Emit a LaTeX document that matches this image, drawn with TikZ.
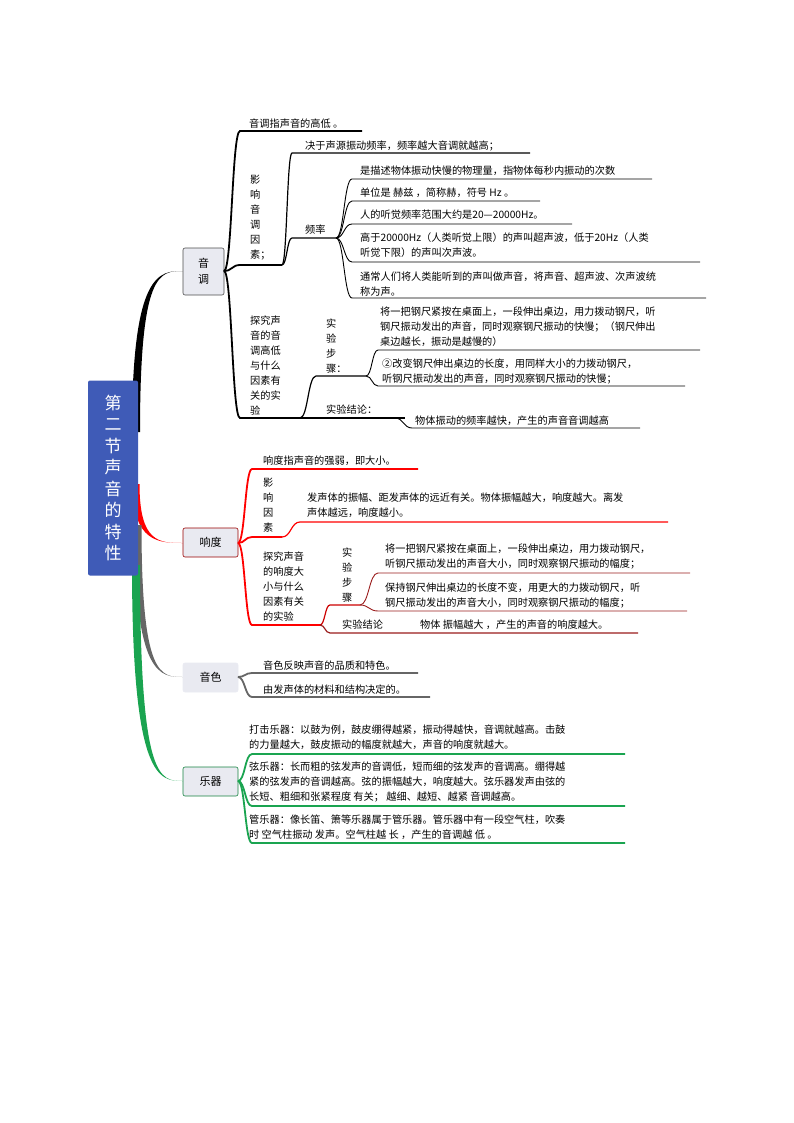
\documentclass[tikz,border=0pt]{standalone}
\usepackage{fontspec}
\setmainfont{Noto Sans CJK SC}
\begin{document}
\begin{tikzpicture}[x=1pt,y=-1pt,
  t/.style={inner sep=0pt,anchor=west,align=left,font=\fontsize{10.2}{15}\selectfont},
  vt/.style={inner sep=0pt,anchor=west,align=left,font=\fontsize{10.2}{15}\selectfont},
  sub/.style={draw=#1,fill=subfill,rounded corners=2pt,line width=0.6pt,font=\fontsize{11}{16}\selectfont,align=center,inner sep=0pt}]
\definecolor{subfill}{HTML}{E9EAF1}
\definecolor{rootblue}{HTML}{3F5BB7}
\definecolor{gr}{HTML}{1AA450}
\definecolor{dred}{HTML}{9A1C1C}
\useasboundingbox (0,0) rectangle (794,1123);
\newcommand\br[7]{\draw[#1,line width=#2] (#3,#4) .. controls ({#3+0.5*(#5-#3)},#4) and ({#3+0.5*(#5-#3)},#6) .. (#5,#6) -- (#7,#6);}
\newcommand\taper[6]{\fill[#1] ({#2-#6},#3) .. controls ({#2-#6},#5) and ({#2+0.5*(#4-#2)},#5) .. (#4,#5) .. controls ({#2+0.5*(#4-#2)},#5) and ({#2+#6},#5) .. ({#2+#6},#3) -- cycle;}
% main branches
\taper{black}{136}{432}{183}{271}{4}
\taper{red}{136}{484}{183}{543}{3.5}
\taper{black!60}{138}{525}{183}{677}{3.5}
\taper{gr}{136}{565}{183}{781}{4}
% root
\node[fill=rootblue,rounded corners=2pt,minimum width=50pt,minimum height=195pt,text=white,align=center,font=\fontsize{17}{21.5}\selectfont,inner sep=0pt] (root) at (113,478) {第\\二\\节\\声\\音\\的\\特\\性};
\node[sub=black!70,minimum width=41pt,minimum height=47pt] (yd) at (203.5,271.5) {音\\调};
\node[sub=red!60!black,minimum width=55pt,minimum height=29pt] (xd) at (210.5,542.5) {响度};
\node[sub=subfill,minimum width=55pt,minimum height=29pt] (ys) at (210.5,677.5) {音色};
\node[sub=gr!80!black,minimum width=55pt,minimum height=29pt] (yq) at (210.5,781.5) {乐器};
% 音调 tree
\br{black}{1.8pt}{224}{271}{240}{131}{362}
\br{black}{1.8pt}{224}{271}{240}{265}{282}
\br{black}{1.8pt}{224}{271}{240}{418}{300}
\node[t] (a1) at (249,124) {音调指声音的高低 。};
\node[vt] (a2) at (250,218) {影\\响\\音\\调\\因\\素；};
\br{black}{1.2pt}{282}{265}{292}{153}{530}
\br{black}{1.2pt}{282}{265}{292}{238}{336}
\node[t] (a3) at (305,146) {决于声源振动频率，频率越大音调就越高；};
\node[t] (a4) at (305,230) {频率};
\br{black}{0.9pt}{336}{238}{352}{179}{652}
\br{black}{0.9pt}{336}{238}{352}{201}{540}
\br{black}{0.9pt}{336}{238}{352}{224}{572}
\br{black}{0.9pt}{336}{238}{352}{262}{700}
\br{black}{0.9pt}{336}{238}{352}{298}{706}
\node[t] (f1) at (360,171) {是描述物体振动快慢的物理量，指物体每秒内振动的次数};
\node[t] (f2) at (360,193) {单位是 赫兹 ，简称赫，符号 Hz 。};
\node[t] (f3) at (360,215) {人的听觉频率范围大约是20—20000Hz。};
\node[t] (f4) at (360,245.5) {高于20000Hz（人类听觉上限）的声叫超声波，低于20Hz（人类\\听觉下限）的声叫次声波。};
\node[t] (f5) at (360,284) {通常人们将人类能听到的声叫做声音，将声音、超声波、次声波统\\称为声。};
\node[vt] (a5) at (250,366) {探究声\\音的音\\调高低\\与什么\\因素有\\关的实\\验};
\br{black}{1.2pt}{300}{418}{316}{376}{366}
\br{black}{1.2pt}{300}{418}{316}{418}{405}
\node[vt] (a6) at (326,346) {实\\验\\步\\骤：};
\br{black}{0.9pt}{366}{376}{378}{350}{700}
\br{black}{0.9pt}{366}{376}{378}{386}{685}
\node[t] (s1) at (380,327) {将一把钢尺紧按在桌面上，一段伸出桌边，用力拨动钢尺，听\\钢尺振动发出的声音，同时观察钢尺振动的快慢；（钢尺伸出\\桌边越长，振动是越慢的）};
\node[t] (s2) at (382,371) {②改变钢尺伸出桌边的长度，用同样大小的力拨动钢尺，\\听钢尺振动发出的声音，同时观察钢尺振动的快慢；};
\node[t] (a7) at (326,410) {实验结论：};
\br{black}{0.9pt}{395}{418}{412}{428}{640}
\node[t] (c1) at (415,421) {物体振动的频率越快，产生的声音音调越高};
% 响度 tree
\br{red}{1.8pt}{238}{543}{252}{469}{418}
\br{red}{1.8pt}{238}{543}{252}{537}{282}
\br{red}{1.8pt}{238}{543}{252}{625}{320}
\node[t] (b1) at (263,461) {响度指声音的强弱，即大小。};
\node[vt] (b2) at (263,505) {影\\响\\因\\素};
\br{red}{1.2pt}{282}{537}{300}{522}{668}
\node[t] (b3) at (307,505.5) {发声体的振幅、距发声体的远近有关。物体振幅越大，响度越大。离发\\声体越远，响度越小。};
\node[vt] (b4) at (263,587) {探究声音\\的响度大\\小与什么\\因素有关\\的实验};
\br{red!80!black}{1.2pt}{320}{625}{330}{605}{360}
\br{dred}{1.2pt}{320}{625}{330}{633}{638}
\node[vt] (b5) at (342,575.5) {实\\验\\步\\骤};
\br{dred}{0.9pt}{360}{605}{378}{573}{690}
\br{dred}{0.9pt}{360}{605}{378}{611}{687}
\node[t] (b6) at (385,556.5) {将一把钢尺紧按在桌面上，一段伸出桌边，用力拨动钢尺，\\听钢尺振动发出的声音大小，同时观察钢尺振动的幅度；};
\node[t] (b7) at (385,595.5) {保持钢尺伸出桌边的长度不变，用更大的力拨动钢尺，听\\钢尺振动发出的声音大小，同时观察钢尺振动的幅度；};
\node[t] (b8) at (342,625) {实验结论};
\node[t] (b9) at (420,625) {物体 振幅越大 ，产生的声音的响度越大。};
% 音色
\br{black!60}{1.8pt}{238}{677}{252}{673}{418}
\br{black!60}{1.8pt}{238}{677}{252}{697}{430}
\node[t] (d1) at (263,666) {音色反映声音的品质和特色。};
\node[t] (d2) at (263,690) {由发声体的材料和结构决定的。};
% 乐器
\br{gr}{1.8pt}{238}{781}{252}{754}{625}
\br{gr}{1.8pt}{238}{781}{252}{806}{625}
\br{gr}{1.8pt}{238}{781}{252}{843}{625}
\node[t] (e1) at (249,737.5) {打击乐器：以鼓为例，鼓皮绷得越紧，振动得越快，音调就越高。击鼓\\的力量越大，鼓皮振动的幅度就越大，声音的响度就越大。};
\node[t] (e2) at (249,782) {弦乐器：长而粗的弦发声的音调低，短而细的弦发声的音调高。绷得越\\紧的弦发声的音调越高。弦的振幅越大，响度越大。弦乐器发声由弦的\\长短、粗细和张紧程度 有关； 越细、越短、越紧 音调越高。};
\node[t] (e3) at (249,827.5) {管乐器：像长笛、箫等乐器属于管乐器。管乐器中有一段空气柱，吹奏\\时 空气柱振动 发声。空气柱越 长 ，产生的音调越 低 。};
\end{tikzpicture}
\end{document}
